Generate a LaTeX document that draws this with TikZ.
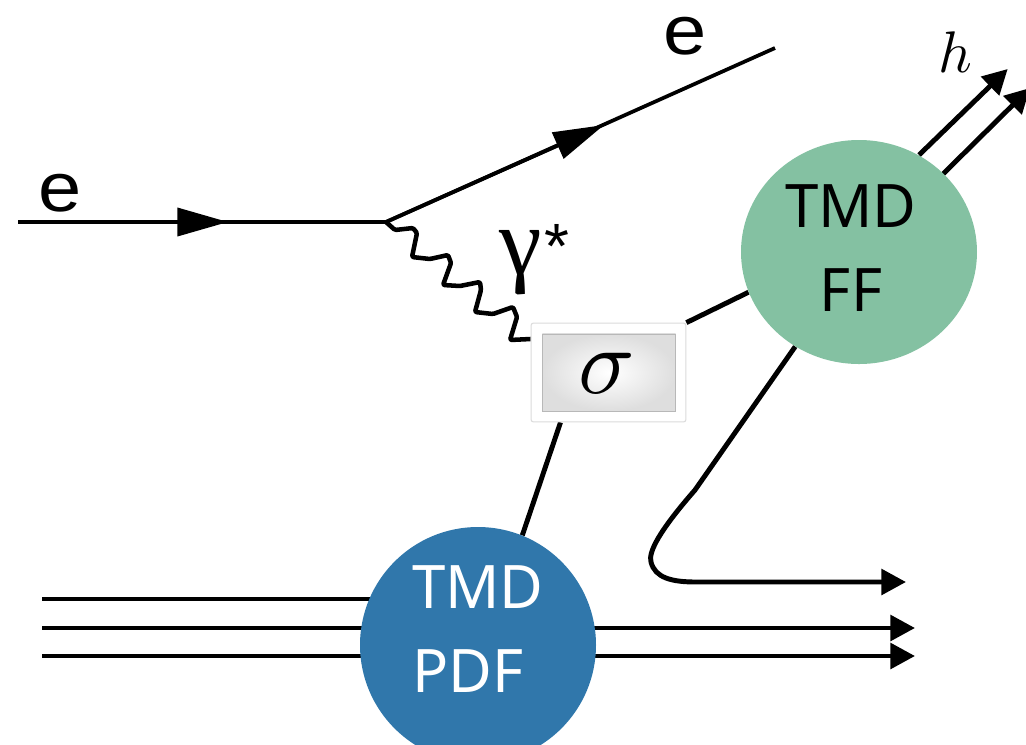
\documentclass[tikz,border=0pt]{standalone}
\usepackage{fontspec}
\setmainfont{Noto Sans}
\newfontfamily\helv{Liberation Sans}
\newfontfamily\symbfont{Liberation Serif}
\usetikzlibrary{arrows.meta,shapes.geometric,backgrounds}
\tikzset{
  blob/.style={ellipse,draw=none,inner sep=0pt},
  blobtext/.style={inner sep=0pt,font=\fontsize{45}{63}\selectfont},
  thick line/.style={line width=3.7pt,draw=black},
  thin line/.style={line width=2.8pt,draw=black},
  bighead/.style={-{Triangle[length=18.5pt,width=19pt]}},
  elhead/.style={-{Triangle[length=38pt,width=21pt]}},
  lab/.style={inner sep=0pt,text=black},
}
\definecolor{ffgreen}{HTML}{84C1A2}
\definecolor{pdfblue}{HTML}{3077AB}
\begin{document}
\begin{tikzpicture}[x=0.75pt,y=-0.75pt]
\useasboundingbox (0,0) rectangle (1026,744);
\clip (0,0) rectangle (1026,744);
% nodes
\node[blob,fill=ffgreen,minimum width=177pt,minimum height=168pt] (ff) at (859,252) {};
\node[blobtext,align=center] (fflab) at (851,248) {TMD\\FF};
\node[blob,fill=pdfblue,minimum width=177pt,minimum height=177pt] (pdf) at (478,645) {};
\node[blobtext,text=white,align=left] (pdflab) at (478,629) {TMD\\PDF};
\node[rectangle,rounded corners=1.5pt,draw=black!14,fill=white,line width=0.8pt,minimum width=116pt,minimum height=74pt,inner sep=0pt] (sigmabox) at (608.5,372.5) {};
\node[rectangle,draw=black!28,inner color=white,outer color=black!13,line width=0.5pt,minimum width=100pt,minimum height=58pt,inner sep=0pt] (sigmainner) at (609,372.5) {};
\node[lab] (sigmalab) at (607,373) {\scalebox{7}{$\sigma$}};
\node[lab] (hlab) at (955,52) {\scalebox{4.4}{$h$}};
\node[lab,font=\helv\fontsize{52}{52}\selectfont] (e1) at (60,193) {\scalebox{1.12}[1]{e}};
\node[lab,font=\helv\fontsize{52}{52}\selectfont] (e2) at (685,36) {\scalebox{1.12}[1]{e}};
\node[lab,font=\symbfont\fontsize{72}{72}\selectfont] (gam) at (521,263) {γ};
\node[lab,font=\helv\fontsize{48}{48}\selectfont,anchor=north] (star) at (557,224) {*};
% free ends
\coordinate (ein) at (18,222);
\coordinate (vtx) at (386,222);
\coordinate (emid) at (228,222);
\coordinate (eout) at (775,48);
\coordinate (eoutmid) at (604,125);
\coordinate (hA) at (1007.7,69);
\coordinate (hB) at (1030,88);
\coordinate (beamA) at (42,599);
\coordinate (beamB) at (42,628);
\coordinate (beamC) at (42,656);
\coordinate (outB) at (915,628);
\coordinate (outC) at (915,656);
\coordinate (outD) at (906,582);
\coordinate (gammaend) at (sigmabox.west |- 0,339);
\begin{scope}[on background layer]
  \draw[thin line] (ein) -- (vtx);
  \draw[thin line,elhead] (ein) -- (emid);
  \draw[thin line] (vtx) -- (eout);
  \draw[thin line,elhead] (vtx) -- (eoutmid);
  \draw[line width=3.4pt,line join=round,rounded corners=1pt]
    (vtx) -- (395,230) -- (413,228) -- (417,233) -- (412,257) -- (430,259) -- (448,255) -- (451,263)
    -- (443,285) -- (460,286) -- (480,282) -- (481,290) -- (475,312) -- (493,314) -- (513,307)
    -- (517,317) -- (510,340) -- (gammaend);
  \draw[thick line] (sigmabox.north east) -- (ff.200);
  \draw[thick line] (sigmabox.south) ++(-48,0) -- (pdf.68);
  \draw[thick line,bighead] (919,155) -- (hA);
  \draw[thick line,bighead] (943,174) -- (hB);
  \draw[thick line] (beamA) -- (beamA -| pdf);
  \draw[thick line,bighead] (beamB) -- (outB);
  \draw[thick line,bighead] (beamC) -- (outC);
  \draw[thick line,bighead] (ff.236) -- (695,490) .. controls (660,530) and (648,552) .. (651,562)
     .. controls (655,578) and (672,582) .. (696,582) -- (outD);
\end{scope}
\end{tikzpicture}
\end{document}
